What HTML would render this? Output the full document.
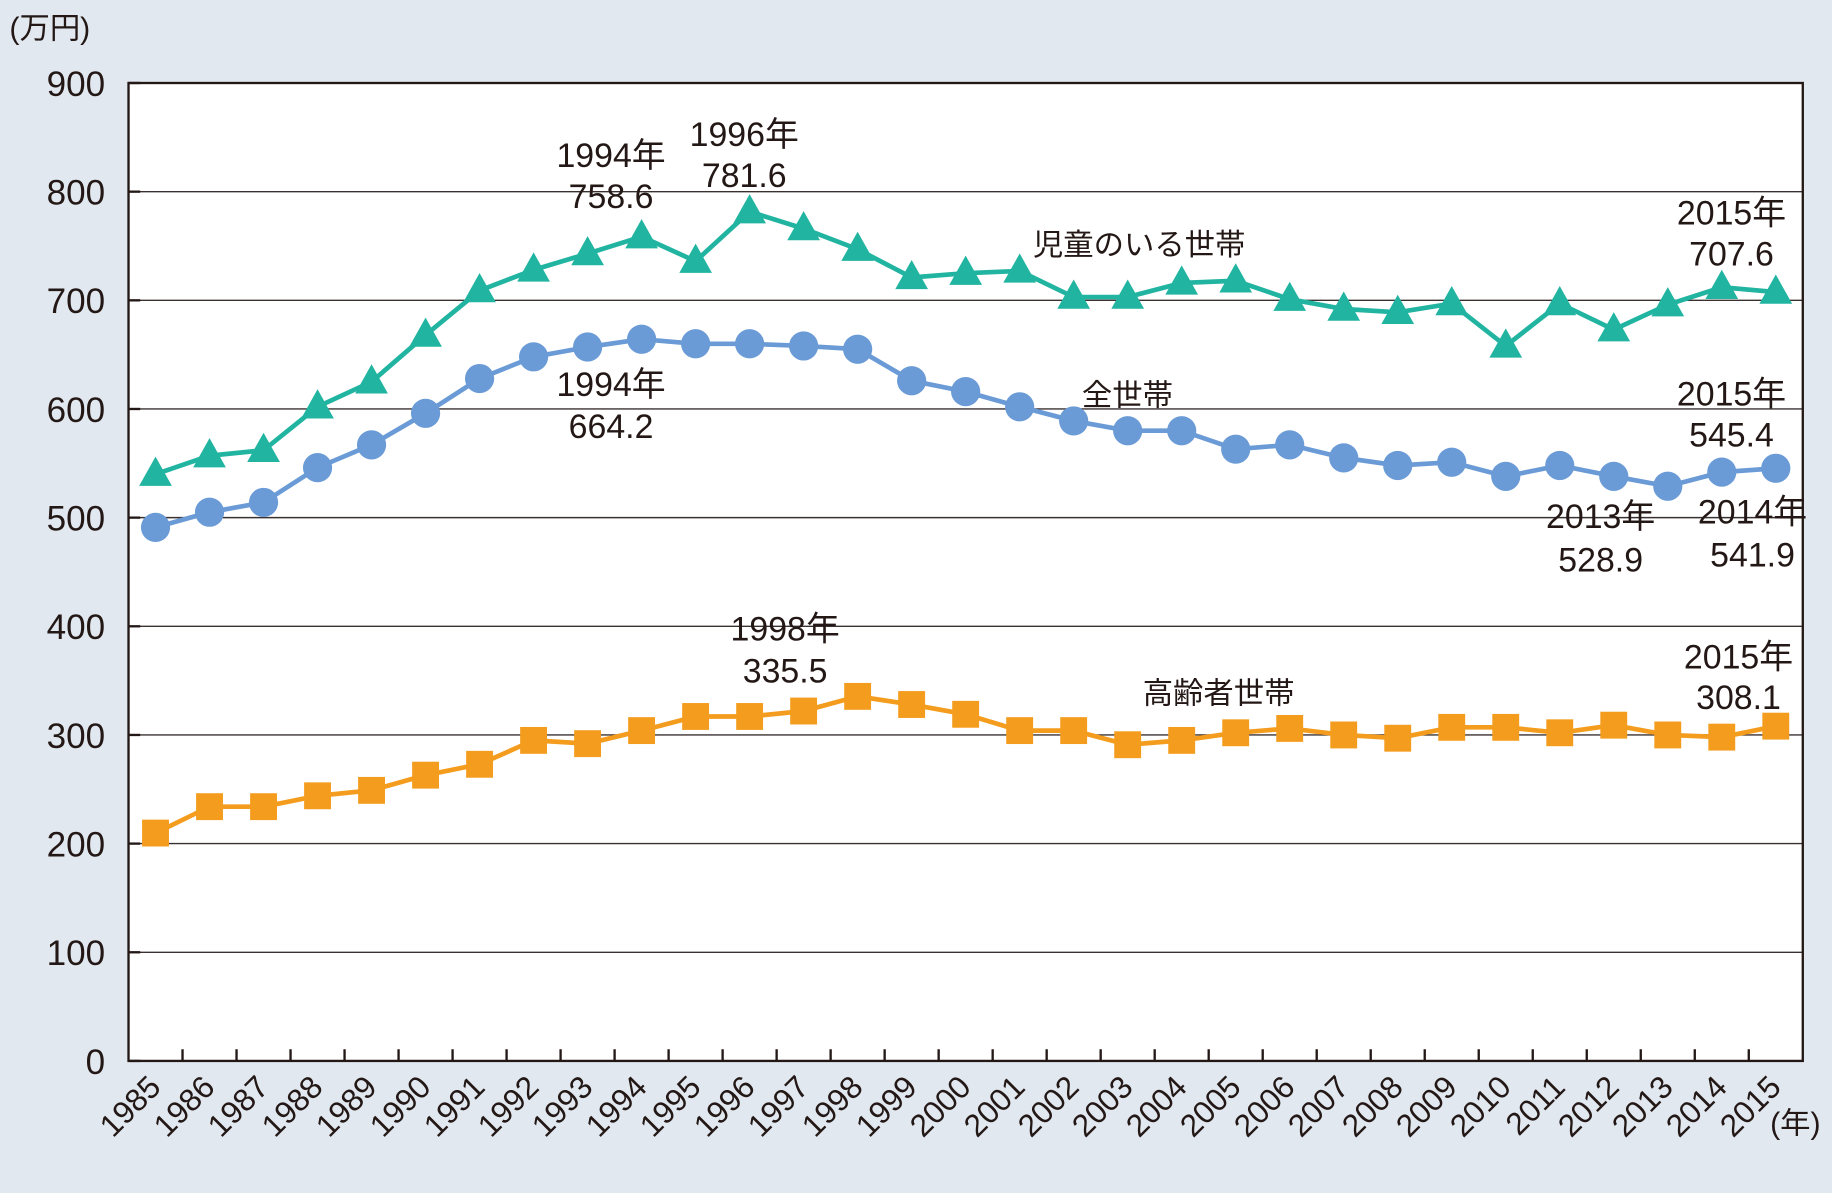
<!DOCTYPE html>
<html><head><meta charset="utf-8"><style>
html,body{margin:0;padding:0;background:#e1e8f0;}
svg{display:block;font-family:"Liberation Sans","Noto Sans CJK JP",sans-serif;}
</style></head><body>
<svg id="chart" width="1832" height="1193" viewBox="0 0 1568 1021" xmlns="http://www.w3.org/2000/svg">
<rect x="0" y="0" width="1568" height="1021" fill="#e1e8f0"/>
<rect x="110" y="71" width="1433" height="837" fill="#fff"/>
<g id="grid"></g><g id="axes"></g><g id="series"></g><g id="labels"></g>
</svg>
<script>
const years=[1985,1986,1987,1988,1989,1990,1991,1992,1993,1994,1995,1996,1997,1998,1999,2000,2001,2002,2003,2004,2005,2006,2007,2008,2009,2010,2011,2012,2013,2014,2015];
const childValues=[540,557,562,602,625,668,709,728,743,758.6,736,781.6,766,747,721,725,727,703,703,716,718,701,692,689,697,658,697,673,696,712,707.6];
const allValues=[491,505,514,546,567,596,628,648,657,664.2,660,660,658,655,626,616,602,589,580,580,563,567,555,548,551,538,548,538,528.9,541.9,545.4];
const elderValues=[209.7,234,234,244,249,263,273,295,292,304,317,317,322,335.5,328,319,304,304,291,295,302,306,300,297,307,307,302,309,300,298,308.1];
const yTicks=[0,100,200,300,400,500,600,700,800,900];

const NS="http://www.w3.org/2000/svg";
const L=110,R=1543,T=71,B=908;
const step=(R-L)/years.length;
const xs=i=>L+step*(i+0.5);
const ys=v=>B-(v/900)*(B-T);
function mk(tag,attrs,parent,text){const e=document.createElementNS(NS,tag);for(const k in attrs)e.setAttribute(k,attrs[k]);if(text!==undefined)e.textContent=text;parent.appendChild(e);return e;}
const grid=document.getElementById('grid'),axes=document.getElementById('axes'),series=document.getElementById('series'),labels=document.getElementById('labels');

yTicks.forEach(v=>{
  const y=ys(v);
  if(v>0&&v<900){const g=mk('line',{x1:L,x2:R,y1:y,y2:y,stroke:'#3a3030','stroke-width':1.2},grid);
  
  }
  mk('line',{x1:L,x2:L+10,y1:y,y2:y,stroke:'#231815','stroke-width':2},axes);
  const lb=mk('text',{x:90,y:y+11,'text-anchor':'end','font-size':30,fill:'#231815'},axes,String(v));
  
  
});
mk('rect',{x:L,y:T,width:R-L,height:B-T,fill:'none',stroke:'#231815','stroke-width':2},axes);
const yu=mk('text',{x:8,y:33,'font-size':26,fill:'#231815'},axes,'(万円)');


for(let i=1;i<years.length;i++){const x=L+step*i;mk('line',{x1:x,x2:x,y1:B,y2:B-10,stroke:'#231815','stroke-width':2},axes);}
years.forEach((yr,i)=>{
  const x=xs(i)+6,y=B+24;
  const t=mk('text',{x:x,y:y,'text-anchor':'end','font-size':27,fill:'#231815',transform:`rotate(-45 ${x} ${y})`},axes,String(yr));
  
  
});
const xu=mk('text',{x:1515,y:970,'font-size':26,fill:'#231815'},axes,'(年)');



function drawSeries(vals,color,shape,name){
  const pts=vals.map((v,i)=>xs(i)+','+ys(v)).join(' ');
  const pl=mk('polyline',{points:pts,fill:'none',stroke:color,'stroke-width':4},series);
  
  
  vals.forEach((v,i)=>{
    const x=xs(i),y=ys(v);let m;
    if(shape==='tri')m=mk('polygon',{points:`${x},${y-15} ${x-14},${y+10} ${x+14},${y+10}`,fill:color},series);
    else if(shape==='circ')m=mk('circle',{cx:x,cy:y,r:12.5,fill:color},series);
    else m=mk('rect',{x:x-11.5,y:y-11.5,width:23,height:23,fill:color},series);
    
    
  });
}
drawSeries(childValues,'#21b4a0','tri','child-households');
drawSeries(allValues,'#6b9bd6','circ','all-households');
drawSeries(elderValues,'#f49c1d','sq','elderly-households');

const notes=[
 ['1994年',523,143],['758.6',523,178],['1996年',637,125],['781.6',637,160],
 ['児童のいる世帯',975,218],['2015年',1482,192],['707.6',1482,227],
 ['1994年',523,339],['664.2',523,375],['全世帯',965,347],['2015年',1482,347],['545.4',1482,382],
 ['2013年',1370,452],['528.9',1370,489],['2014年',1500,448],['541.9',1500,485],
 ['1998年',672,548],['335.5',672,584],['高齢者世帯',1043,602],['2015年',1488,572],['308.1',1488,607]
];
notes.forEach((n,i)=>{
  const t=mk('text',{x:n[1],y:n[2],'text-anchor':'middle','font-size':n[0].match(/世帯/)?26:29,fill:'#231815'},labels,n[0]);
  
  
});
</script>
</body></html>
